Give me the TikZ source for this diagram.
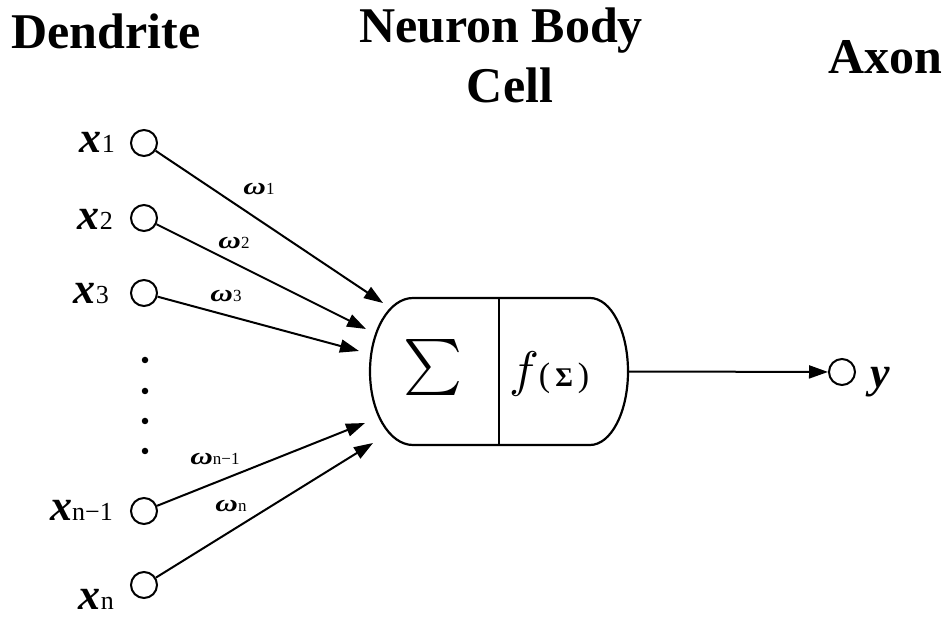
\documentclass[tikz,border=0pt]{standalone}
\usepackage{fontspec}
\setmainfont{Liberation Serif}
\usepackage{graphicx}
\usetikzlibrary{arrows.meta}
\newcommand\xin[1]{{\fontsize{44}{44}\selectfont\textbf{\textit{x}}}{\fontsize{26}{26}\selectfont #1}}
\newcommand\wt[1]{{\fontsize{24}{24}\selectfont\scalebox{1.3}[1]{\textbf{\textit{ω}}}}{\fontsize{17}{17}\selectfont #1}}
\begin{document}
\begin{tikzpicture}[x=1pt,y=-1pt,line width=2.2pt,
  port/.style={draw,circle,minimum size=26pt,inner sep=0pt,line width=2pt},
  arr/.style={-{Triangle[length=19pt,width=13pt]},line width=2pt},
  title/.style={font=\fontsize{50}{50}\bfseries\selectfont,anchor=base,inner sep=0pt},
  inlabel/.style={anchor=base east,inner sep=0pt},
  wlabel/.style={inner sep=0pt},
  dot/.style={circle,fill,minimum size=6.5pt,inner sep=0pt}]
\useasboundingbox (0,0) rectangle (946,617);
% titles
\node[title] (dend) at (106,49) {Dendrite};
\node[title] (nb) at (501,43) {Neuron Body};
\node[title] (cell) at (510,103) {Cell};
\node[title] (axon) at (885,74) {Axon};
% input circles
\node[port] (x1) at (144,143) {};
\node[port] (x2) at (144,218) {};
\node[port] (x3) at (144,293) {};
\node[port] (x4) at (144,511) {};
\node[port] (x5) at (144,585) {};
% input labels
\node[inlabel] (l1) at (116,153) {\xin{1}};
\node[inlabel] (l2) at (114,230) {\xin{2}};
\node[inlabel] (l3) at (110,304) {\xin{3}};
\node[inlabel] (l4) at (114,521) {\xin{n−1}};
\node[inlabel] (l5) at (115,609) {\xin{n}};
% dots
\node[dot] (d1) at (145,360) {};
\node[dot] (d2) at (145,391) {};
\node[dot] (d3) at (145,421) {};
\node[dot] (d4) at (145,451) {};
% body
\coordinate (bTL) at (413,298);
\coordinate (bTR) at (590,298);
\coordinate (bBL) at (413,445);
\coordinate (dT) at (499,298);
\coordinate (dB) at (499,445);
\coordinate (bodyR) at (628,371.5);
\draw (bTL) -- (bTR) arc[start angle=-90,end angle=90,x radius=38,y radius=73.5]
  -- (bBL) arc[start angle=90,end angle=270,x radius=43,y radius=73.5] -- cycle;
\draw (dT) -- (dB);
\node (sum) at (433,368) {\scalebox{5.6}{$\sum$}};
\node[anchor=base west,inner sep=0pt] (fs) at (508,387)
  {\scalebox{5}{$f$}{\fontsize{34}{34}\selectfont(\kern5pt{\fontsize{27}{27}\selectfont\textbf{Σ}}\kern5pt)}};
% arrow tips
\coordinate (t1) at (383,303);
\coordinate (t2) at (366,329);
\coordinate (t3) at (359,351);
\coordinate (t4) at (365,423);
\coordinate (t5) at (373,443);
\draw[arr] (x1) -- (t1);
\draw[arr] (x2) -- (t2);
\draw[arr] (x3) -- (t3);
\draw[arr] (x4) -- (t4);
\draw[arr] (x5) -- (t5);
% weights
\node[wlabel] (w1) at (259,189) {\wt{1}};
\node[wlabel] (w2) at (234,243) {\wt{2}};
\node[wlabel] (w3) at (226,296) {\wt{3}};
\node[wlabel] (w4) at (215,459) {\wt{n−1}};
\node[wlabel] (w5) at (231,506) {\wt{n}};
% output
\node[port] (y) at (842,372) {};
\draw[arr] (bodyR) -- (y);
\node[anchor=base west,inner sep=0pt] (ylab) at (869,388) {\fontsize{44}{44}\selectfont\textbf{\textit{y}}};
\end{tikzpicture}
\end{document}
